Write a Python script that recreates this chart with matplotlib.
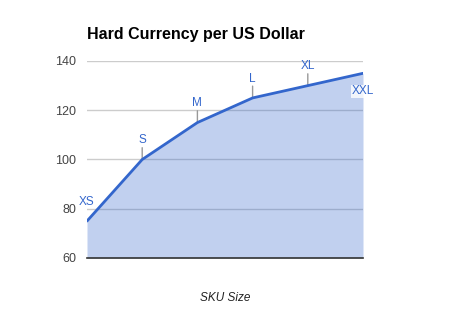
import matplotlib.pyplot as plt
import numpy as np

sizes = ["XS", "S", "M", "L", "XL", "XXL"]
values = [75, 100, 115, 125, 130, 135]
y_ticks = [60, 80, 100, 120, 140]

blue = "#3366cc"
plt.rcParams['font.family'] = ['Liberation Sans', 'DejaVu Sans']

fig = plt.figure(figsize=(4.5, 3.2), dpi=100)
ax = fig.add_axes([87 / 450, 1 - 258 / 320, 276 / 450, 197 / 320])

x = np.arange(len(sizes))
# semi transparent fill so the grid shows through darker, like the original
ax.fill_between(x, values, 60, color=blue, alpha=0.3, linewidth=0, zorder=2)
ax.plot(x, values, color=blue, linewidth=2, zorder=3, solid_capstyle="round")

ax.set_xlim(0, len(sizes) - 1)
ax.set_ylim(60, 140)
ax.set_yticks(y_ticks)
ax.set_xticks([])
ax.yaxis.grid(True, color="#cccccc", linewidth=1, zorder=1)
ax.set_axisbelow(True)
for s in ["top", "right", "left"]:
    ax.spines[s].set_visible(False)
ax.spines["bottom"].set_color("#333333")
ax.spines["bottom"].set_linewidth(1.2)
ax.spines["bottom"].set_zorder(4)
ax.tick_params(axis="y", length=0, labelsize=9, labelcolor="#444444", pad=8)

# point labels with little stems
for i, (name, v) in enumerate(zip(sizes, values)):
    if name == "XXL":
        ax.annotate(name, (i, v), xytext=(0, -13), textcoords="offset points",
                    ha="center", va="center", color=blue, fontsize=8.5,
                    bbox=dict(boxstyle="square,pad=0.05", fc="white", ec="none", alpha=0.8),
                    zorder=5, annotation_clip=False)
        continue
    if name != "XS":
        ax.annotate("", (i, v), xytext=(0, 8.5), textcoords="offset points",
                    arrowprops=dict(arrowstyle="-", color="#999999", lw=1,
                                    shrinkA=0, shrinkB=0), zorder=2.5)
    ax.annotate(name, (i, v), xytext=(0, 9.5), textcoords="offset points",
                ha="center", va="bottom", color=blue, fontsize=8.5, zorder=5,
                annotation_clip=False)

fig.text(87 / 450, 1 - 34 / 320, "Hard Currency per US Dollar", fontsize=11.5,
         fontweight="bold", ha="left", va="center", color="#000000")
fig.text(225 / 450, 1 - 298 / 320, "SKU Size", fontsize=8.5, style="italic",
         ha="center", va="center", color="#222222")

fig.savefig("out.png", dpi=100)
